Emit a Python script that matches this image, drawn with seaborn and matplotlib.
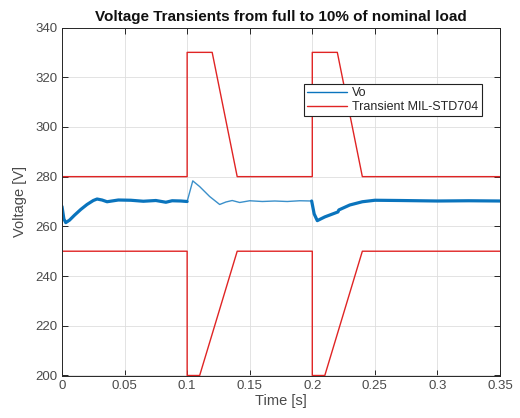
import matplotlib
matplotlib.use("Agg")
import matplotlib.pyplot as plt
import seaborn as sns
import pandas as pd

# ---- data ----
# Vo (full-load section, light-load section, recovery section)
t_vo1 = [0.0, 0.0015, 0.003, 0.006, 0.01, 0.015, 0.02, 0.025, 0.028, 0.032, 0.036, 0.045, 0.055, 0.065, 0.075, 0.083, 0.088, 0.095, 0.1]
v_vo1 = [268.0, 263.0, 261.5, 262.5, 264.5, 266.8, 268.8, 270.4, 271.0, 270.6, 269.9, 270.6, 270.5, 270.1, 270.4, 269.7, 270.3, 270.2, 270.0]
t_vo2 = [0.1, 0.1045, 0.11, 0.118, 0.126, 0.131, 0.136, 0.142, 0.15, 0.16, 0.17, 0.18, 0.19, 0.1995]
v_vo2 = [270.0, 278.3, 276.0, 272.0, 268.8, 269.8, 270.4, 269.6, 270.3, 270.0, 270.2, 270.0, 270.3, 270.2]
t_vo3 = [0.1995, 0.2015, 0.204, 0.21, 0.2205, 0.2212, 0.23, 0.24, 0.25, 0.27, 0.3, 0.325, 0.35]
v_vo3 = [270.2, 265.0, 262.3, 263.8, 265.8, 266.6, 268.6, 269.9, 270.5, 270.4, 270.2, 270.3, 270.2]

# MIL-STD-704 transient envelope
t_upper = [0.0, 0.1, 0.1, 0.12, 0.14, 0.2, 0.2, 0.22, 0.24, 0.35]
v_upper = [280, 280, 330, 330, 280, 280, 330, 330, 280, 280]
t_lower = [0.0, 0.1, 0.1, 0.11, 0.14, 0.2, 0.2, 0.21, 0.24, 0.35]
v_lower = [250, 250, 200, 200, 250, 250, 200, 200, 250, 250]

x_ticks = [0, 0.05, 0.1, 0.15, 0.2, 0.25, 0.3, 0.35]
x_tick_labels = ["0", "0.05", "0.1", "0.15", "0.2", "0.25", "0.3", "0.35"]
y_ticks = [200, 220, 240, 260, 280, 300, 320, 340]

title = "Voltage Transients from full to 10% of nominal load"
xlabel = "Time [s]"
ylabel = "Voltage [V]"

# ---- style ----
sns.set_style("white")
plt.rcParams["font.family"] = ["Liberation Sans", "DejaVu Sans"]
axc = "#262626"

fig = plt.figure(figsize=(5.2, 4.18), dpi=100)
ax = fig.add_axes([62 / 520, 1 - 375.5 / 418, 438 / 520, 348 / 418])

blue = "#0a74bd"
red = "#e02424"

df1 = pd.DataFrame({"t": t_vo1, "v": v_vo1})
df2 = pd.DataFrame({"t": t_vo2, "v": v_vo2})
df3 = pd.DataFrame({"t": t_vo3, "v": v_vo3})
du = pd.DataFrame({"t": t_upper, "v": v_upper})
dl = pd.DataFrame({"t": t_lower, "v": v_lower})

sns.lineplot(data=df1, x="t", y="v", ax=ax, color=blue, lw=2.3, sort=False, estimator=None, label="Vo")
sns.lineplot(data=df2, x="t", y="v", ax=ax, color=blue, lw=1.0, sort=False, estimator=None, alpha=0.8)
sns.lineplot(data=df3, x="t", y="v", ax=ax, color=blue, lw=2.3, sort=False, estimator=None)
sns.lineplot(data=du, x="t", y="v", ax=ax, color=red, lw=1.0, sort=False, estimator=None, label="Transient MIL-STD704")
sns.lineplot(data=dl, x="t", y="v", ax=ax, color=red, lw=1.0, sort=False, estimator=None)

ax.set_xlim(0, 0.35)
ax.set_ylim(200, 340)
ax.set_xticks(x_ticks)
ax.set_xticklabels(x_tick_labels)
ax.set_yticks(y_ticks)

ax.grid(True, color="#dedede", lw=0.6)
ax.set_axisbelow(True)
for s in ax.spines.values():
    s.set_visible(True)
    s.set_color(axc)
    s.set_linewidth(0.7)

ax.tick_params(axis="both", which="both", direction="in", length=4, width=0.7,
               colors=axc, labelsize=9.5, top=True, right=True, bottom=True, left=True,
               pad=3)
for lbl in ax.get_xticklabels() + ax.get_yticklabels():
    lbl.set_color("#4a4a4a")

ax.set_xlabel(xlabel, fontsize=10.5, color="#4a4a4a", labelpad=2)
ax.set_ylabel(ylabel, fontsize=10.5, color="#4a4a4a", labelpad=6)
ax.set_title(title, fontsize=11, fontweight="bold", color="#111111", pad=5)

handles, labels = ax.get_legend_handles_labels()
leg = ax.legend(handles, labels, loc="upper left", bbox_to_anchor=(0.553, 0.838),
                frameon=True, fancybox=False, edgecolor="#222222", framealpha=1,
                fontsize=9, handlelength=3.2, handletextpad=0.4, borderpad=0.25,
                labelspacing=0.15, borderaxespad=0)
leg.get_frame().set_linewidth(0.8)
for h in leg.get_lines():
    h.set_linewidth(1.0)

fig.savefig("out.png", dpi=100)
